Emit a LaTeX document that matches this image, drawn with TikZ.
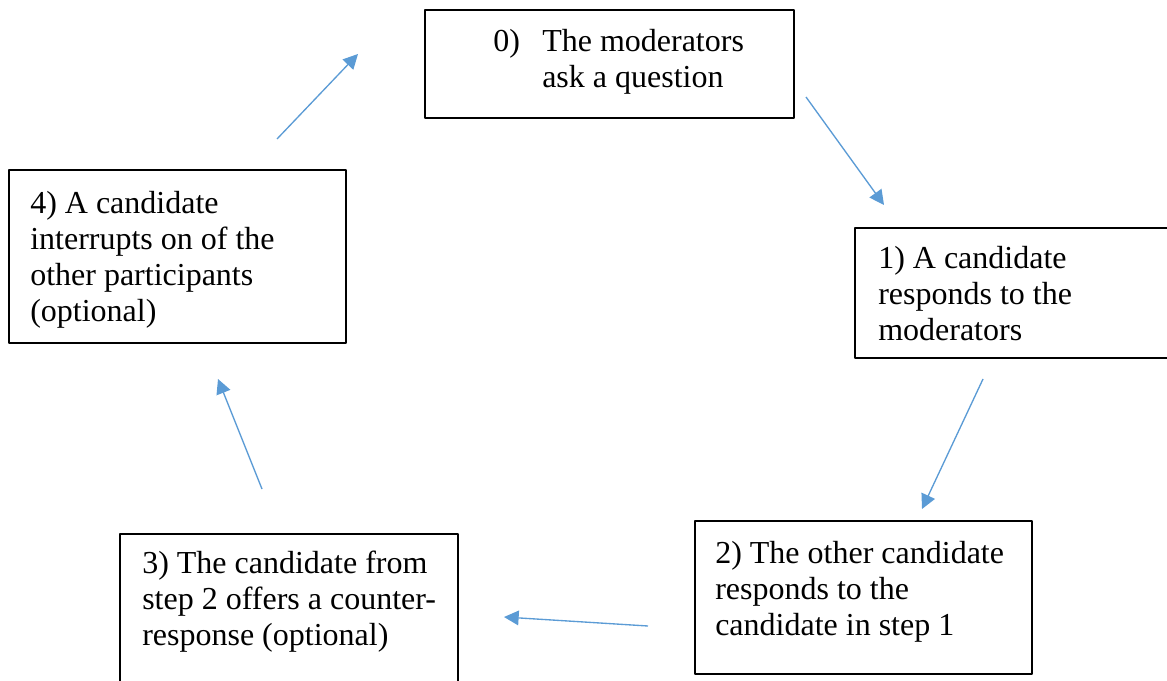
\documentclass[tikz,border=0pt]{standalone}
\usepackage{fontspec}
\setmainfont{Liberation Serif}
\usepackage{xcolor}
\usetikzlibrary{arrows.meta}
\definecolor{flowblue}{HTML}{5B9BD5}

\begin{document}
\begin{tikzpicture}[x=0.75pt,y=-0.75pt,>={Triangle[length=11pt,width=11pt]},line join=bevel,
  stepbox/.style={draw=black,line width=1.2pt,rectangle,anchor=north west,inner sep=0pt},
  steptext/.style={anchor=base west,inner sep=0pt,align=left,font=\fontsize{24}{27}\selectfont},
  flow/.style={->,draw=flowblue,line width=1pt}]

\clip (0,0) rectangle (1167,681);

% the five boxes
\node[stepbox,minimum width=276.75pt,minimum height=81pt] (b0) at (424,9) {};
\node[stepbox,minimum width=247.5pt,minimum height=97.5pt] (b1) at (854,227) {};
\node[stepbox,minimum width=252.75pt,minimum height=114.75pt] (b2) at (694,520) {};
\node[stepbox,minimum width=253.5pt,minimum height=127.5pt] (b3) at (119,533) {};
\node[stepbox,minimum width=252.75pt,minimum height=129.75pt] (b4) at (8,169) {};

% texts (placed by the baseline of their last line)
\node[steptext] (t0) at (493,88) {\makebox[36.75pt][l]{0)}The moderators\\\hspace*{36.75pt}ask a question};
\node[steptext] (t1) at (878,340) {1) A candidate\\responds to the\\moderators};
\node[steptext] (t2) at (715,635) {2) The other candidate\\responds to the\\candidate in step 1};
\node[steptext] (t3) at (142,645) {3) The candidate from\\step 2 offers a counter-\\response (optional)};
\node[steptext] (t4) at (30,321) {4) A candidate\\interrupts on of the\\other participants\\(optional)};

% arrow ends
\coordinate (s40) at (277,139); \coordinate (e40) at (358,54);
\coordinate (s01) at (806,97);  \coordinate (e01) at (884,205);
\coordinate (s12) at (983,379); \coordinate (e12) at (922,509);
\coordinate (s23) at (648,626); \coordinate (e23) at (504,617);
\coordinate (s34) at (262,489); \coordinate (e34) at (218,379);

\draw[flow] (s40) -- (e40);
\draw[flow] (s01) -- (e01);
\draw[flow] (s12) -- (e12);
\draw[flow] (s23) -- (e23);
\draw[flow] (s34) -- (e34);

\end{tikzpicture}
\end{document}
